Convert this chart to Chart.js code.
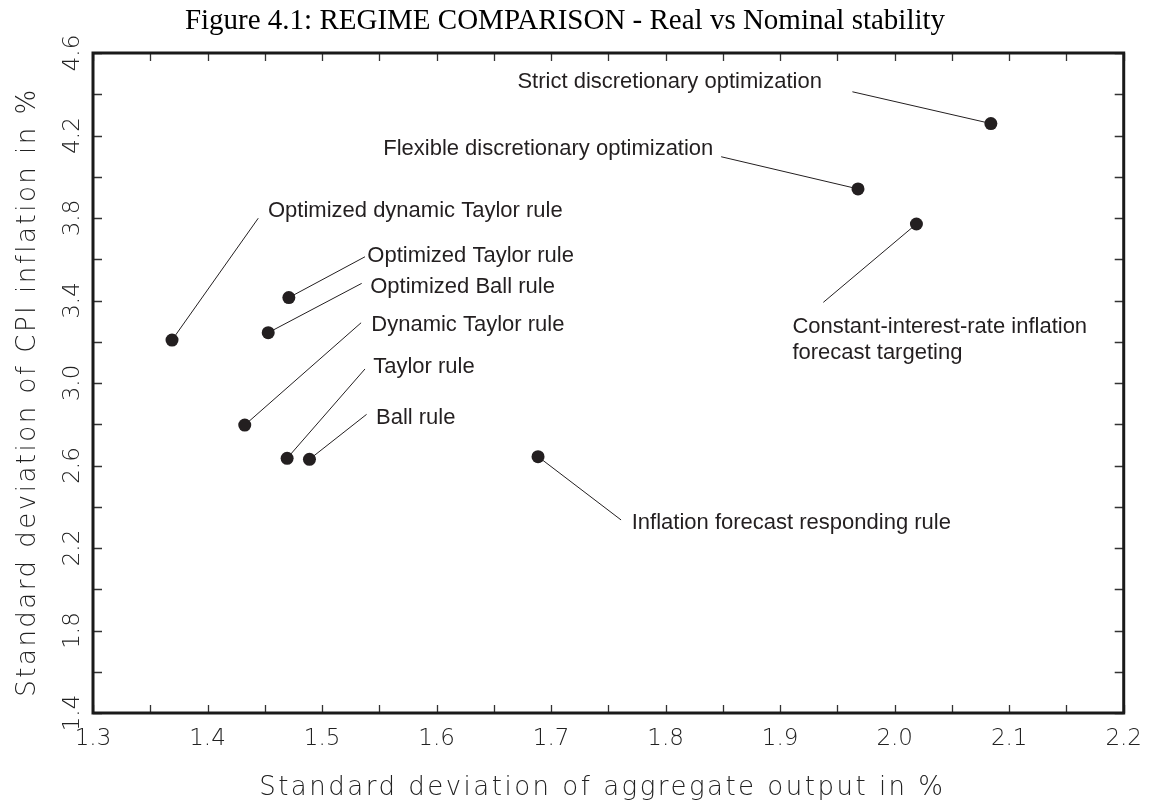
<!DOCTYPE html>
<html>
<head>
<meta charset="utf-8">
<script src="https://cdn.jsdelivr.net/npm/chart.js@4/dist/chart.umd.min.js"></script>
<style>
  html, body { margin: 0; padding: 0; background: #ffffff; }
  #wrap { width: 1154px; height: 801px; }
</style>
</head>
<body>
<div id="wrap"><canvas id="c" width="1154" height="801"></canvas></div>
<script>
// ---------------- data ----------------
const categories = [
  'Strict discretionary optimization',
  'Flexible discretionary optimization',
  'Optimized dynamic Taylor rule',
  'Optimized Taylor rule',
  'Optimized Ball rule',
  'Dynamic Taylor rule',
  'Taylor rule',
  'Ball rule',
  'Constant-interest-rate inflation forecast targeting',
  'Inflation forecast responding rule'
];
// Standard deviation of aggregate output in %
const outputSD    = [2.084, 1.968, 1.369, 1.471, 1.453, 1.4325, 1.4695, 1.489, 2.019, 1.6886];
// Standard deviation of CPI inflation in %
const inflationSD = [4.258, 3.941, 3.208, 3.414, 3.244, 2.796, 2.635, 2.630, 3.771, 2.643];

// annotation text lines
const labelLines = [
  ['Strict discretionary optimization'],
  ['Flexible discretionary optimization'],
  ['Optimized dynamic Taylor rule'],
  ['Optimized Taylor rule'],
  ['Optimized Ball rule'],
  ['Dynamic Taylor rule'],
  ['Taylor rule'],
  ['Ball rule'],
  ['Constant-interest-rate inflation', 'forecast targeting'],
  ['Inflation forecast responding rule']
];
// annotation text anchor (left edge, first baseline) in data units
const labelAtX = [1.6706, 1.5534, 1.4528, 1.5395, 1.5421, 1.5430, 1.5447, 1.5471, 1.9107, 1.7704];
const labelAtY = [4.430, 4.105, 3.806, 3.588, 3.438, 3.252, 3.050, 2.800, 3.244, 2.291];
// far end of each leader line in data units
const leaderX = [1.9631, 1.8485, 1.4443, 1.5375, 1.5346, 1.5341, 1.5375, 1.5389, 1.9377, 1.7611];
const leaderY = [4.412, 4.097, 3.799, 3.612, 3.483, 3.292, 3.068, 2.848, 3.391, 2.336];

// tick labels
const xTickLabels = ['1.3', '1.4', '1.5', '1.6', '1.7', '1.8', '1.9', '2.0', '2.1', '2.2'];
const yTickLabels = ['1.4', '1.8', '2.2', '2.6', '3.0', '3.4', '3.8', '4.2', '4.6'];

const titleText  = 'Figure 4.1: REGIME COMPARISON - Real vs Nominal stability';
const xTitleText = 'Standard deviation of aggregate output in %';
const yTitleText = 'Standard deviation of CPI inflation in %';

// ---------------- styles ----------------
const INK = '#231f20';
const AXIS_FONT = '"DejaVu Sans", sans-serif';
const LABEL_FONT = '22px "Liberation Sans", Arial, sans-serif';

function lookupLabel(value, list) {
  const s = (Math.round(value * 100) / 100).toFixed(2);
  for (const l of list) {
    if (parseFloat(l).toFixed(2) === s) return l;
  }
  return '';
}

const framePlugin = {
  id: 'frameAndTicks',
  beforeDatasetsDraw(chart) {
    const {ctx, chartArea: a, scales: {x, y}} = chart;
    ctx.save();
    ctx.strokeStyle = '#333333';
    ctx.lineWidth = 1.3;
    ctx.beginPath();
    x.ticks.forEach(t => {
      const px = Math.round(x.getPixelForValue(t.value)) + 0.5;
      ctx.moveTo(px, a.bottom); ctx.lineTo(px, a.bottom - 8);
      ctx.moveTo(px, a.top); ctx.lineTo(px, a.top + 8);
    });
    y.ticks.forEach(t => {
      const py = Math.round(y.getPixelForValue(t.value)) + 0.5;
      ctx.moveTo(a.left, py); ctx.lineTo(a.left + 9, py);
      ctx.moveTo(a.right, py); ctx.lineTo(a.right - 9, py);
    });
    ctx.stroke();
    ctx.strokeStyle = '#1a1a1a';
    ctx.lineWidth = 3;
    ctx.strokeRect(a.left, a.top, a.right - a.left, a.bottom - a.top);

    // leader lines
    ctx.strokeStyle = INK;
    ctx.lineWidth = 1;
    ctx.beginPath();
    for (let i = 0; i < categories.length; i++) {
      ctx.moveTo(x.getPixelForValue(leaderX[i]), y.getPixelForValue(leaderY[i]));
      ctx.lineTo(x.getPixelForValue(outputSD[i]), y.getPixelForValue(inflationSD[i]));
    }
    ctx.stroke();

    // annotation labels
    ctx.fillStyle = INK;
    ctx.font = LABEL_FONT;
    ctx.textAlign = 'left';
    ctx.textBaseline = 'alphabetic';
    for (let i = 0; i < categories.length; i++) {
      const lx = x.getPixelForValue(labelAtX[i]);
      const ly = y.getPixelForValue(labelAtY[i]);
      labelLines[i].forEach((line, k) => ctx.fillText(line, lx, ly + k * 26));
    }

    // axis titles
    ctx.fillStyle = '#222222';
    ctx.font = '200 26px ' + AXIS_FONT;
    ctx.letterSpacing = '2.5px';
    ctx.textAlign = 'center';
    ctx.textBaseline = 'alphabetic';
    ctx.fillText(xTitleText, (a.left + a.right) / 2 - 6, 795);
    ctx.translate(35, (a.top + a.bottom) / 2 + 9);
    ctx.rotate(-Math.PI / 2);
    ctx.fillText(yTitleText, 0, 0);
    ctx.restore();
  }
};

new Chart(document.getElementById('c'), {
  type: 'scatter',
  data: {
    datasets: [{
      label: 'Regimes',
      data: outputSD.map((v, i) => ({x: v, y: inflationSD[i]})),
      pointRadius: 6.5,
      pointHoverRadius: 6.5,
      backgroundColor: INK,
      borderWidth: 0
    }]
  },
  plugins: [framePlugin],
  options: {
    responsive: false,
    animation: false,
    devicePixelRatio: 1,
    layout: { padding: { left: 0, right: 24, top: 0, bottom: 0 } },
    plugins: {
      legend: { display: false },
      tooltip: { enabled: false },
      title: {
        display: true,
        text: titleText,
        color: '#000000',
        font: { family: '"Liberation Serif", "Times New Roman", serif', size: 29, weight: 'normal', lineHeight: 1.2 },
        padding: { top: 4, bottom: 14.2 }
      }
    },
    scales: {
      x: {
        type: 'linear',
        min: 1.3, max: 2.2,
        grid: { display: false, drawTicks: false },
        border: { display: false },
        afterFit(s) { s.height = 88; },
        ticks: {
          stepSize: 0.05,
          autoSkip: false,
          maxRotation: 0,
          minRotation: 0,
          padding: 12,
          color: '#222222',
          font: { family: AXIS_FONT, size: 23, weight: 200, lineHeight: 1.2 },
          callback: (v) => lookupLabel(v, xTickLabels)
        }
      },
      y: {
        type: 'linear',
        min: 1.4, max: 4.6,
        grid: { display: false, drawTicks: false },
        border: { display: false },
        afterFit(s) { s.width = 93; },
        ticks: {
          stepSize: 0.2,
          autoSkip: false,
          minRotation: 90,
          maxRotation: 90,
          crossAlign: 'center',
          padding: 2,
          color: '#222222',
          font: { family: AXIS_FONT, size: 23, weight: 200, lineHeight: 1.2 },
          callback: (v) => lookupLabel(v, yTickLabels)
        }
      }
    }
  }
});
</script>
</body>
</html>
